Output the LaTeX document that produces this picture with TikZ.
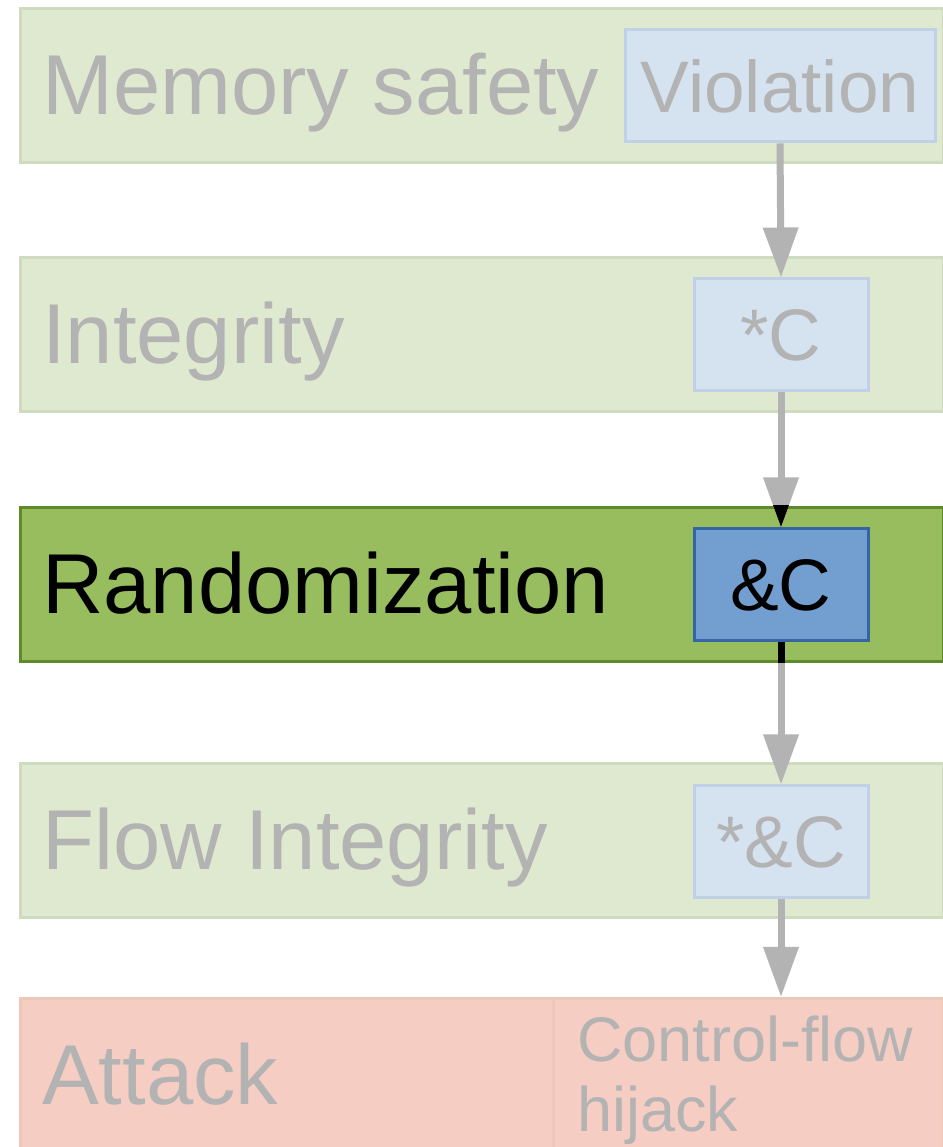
\documentclass[tikz,border=0pt]{standalone}
\usepackage{fontspec}
\setmainfont{Liberation Sans}
\usepackage{xcolor}
\usetikzlibrary{arrows.meta}

\definecolor{fadegreen}{RGB}{222,233,207}
\definecolor{fadegreenline}{RGB}{207,219,191}
\definecolor{fadeblue}{RGB}{213,226,239}
\definecolor{fadeblueline}{RGB}{192,208,230}
\definecolor{darkgreen}{RGB}{151,189,95}
\definecolor{darkgreenline}{RGB}{95,138,42}
\definecolor{darkblue}{RGB}{114,159,207}
\definecolor{darkblueline}{RGB}{52,101,164}
\definecolor{attackred}{RGB}{246,205,195}
\definecolor{attackline}{RGB}{236,201,182}
\definecolor{fadetext}{RGB}{179,179,179}

\tikzset{
  band/.style={draw=fadegreenline, fill=fadegreen, line width=3pt,
    minimum width=923pt, minimum height=154pt, anchor=north west, inner sep=0pt},
  tag/.style={draw=fadeblueline, fill=fadeblue, line width=3pt, text=fadetext,
    minimum width=174pt, minimum height=112pt, inner sep=0pt,
    font=\fontsize{73}{80}\selectfont},
  layername/.style={anchor=base west, inner sep=0pt, text=fadetext,
    font=\fontsize{85}{95}\selectfont},
  flow/.style={draw=fadetext, line width=7pt,
    -{Triangle[length=50pt,width=34pt]}}
}

\begin{document}
\begin{tikzpicture}[x=1pt, y=1pt]
  \useasboundingbox (0,0) rectangle (942,1147);

  % the five layers
  \node[band] (mem) at (19,1140) {};
  \node[band] (integ) at (19,891) {};
  \node[band, draw=darkgreenline, fill=darkgreen] (rand) at (19,641) {};
  \node[band] (flowint) at (19,385) {};
  \node[band, draw=attackline, fill=attackred, minimum height=170pt] (attack) at (19,150) {};
  \draw[attackline, line width=3pt] (553,150) -- (553,0);

  % layer names
  \node[layername] (memtxt) at (42,1032) {Memory safety};
  \node[layername] (integtxt) at (42,783) {Integrity};
  \node[layername, text=black] (randtxt) at (42,533) {Randomization};
  \node[layername] (flowtxt) at (42,277) {Flow Integrity};
  \node[layername] (attacktxt) at (42,42) {Attack};
  \node[anchor=base west, inner sep=0pt, text=fadetext, align=left,
    font=\fontsize{63}{70}\selectfont] (hijack) at (577,15)
    {Control-flow\\hijack};

  % the steps
  \node[tag, minimum width=310pt] (viol) at (780,1061) {Violation};
  \node[tag] (ptr) at (781,812) {*C};
  \node[tag, draw=darkblueline, fill=darkblue, text=black] (addr) at (781,562) {\&C};
  \node[tag] (use) at (781,305) {*\&C};

  % arrows between steps
  \draw[flow] (viol.south) -- (ptr.north);
  \draw[flow] (ptr.south) -- (addr.north);
  \draw[flow] (addr.south) -- (use.north);
  \draw[flow] (use.south) -- (781,150);

  % parts inside the active layer are black
  \begin{scope}
    \clip (rand.north west) rectangle (rand.south east);
    \draw[flow, draw=black] (ptr.south) -- (addr.north);
    \draw[flow, draw=black, -] (addr.south) -- (use.north);
  \end{scope}
\end{tikzpicture}
\end{document}
